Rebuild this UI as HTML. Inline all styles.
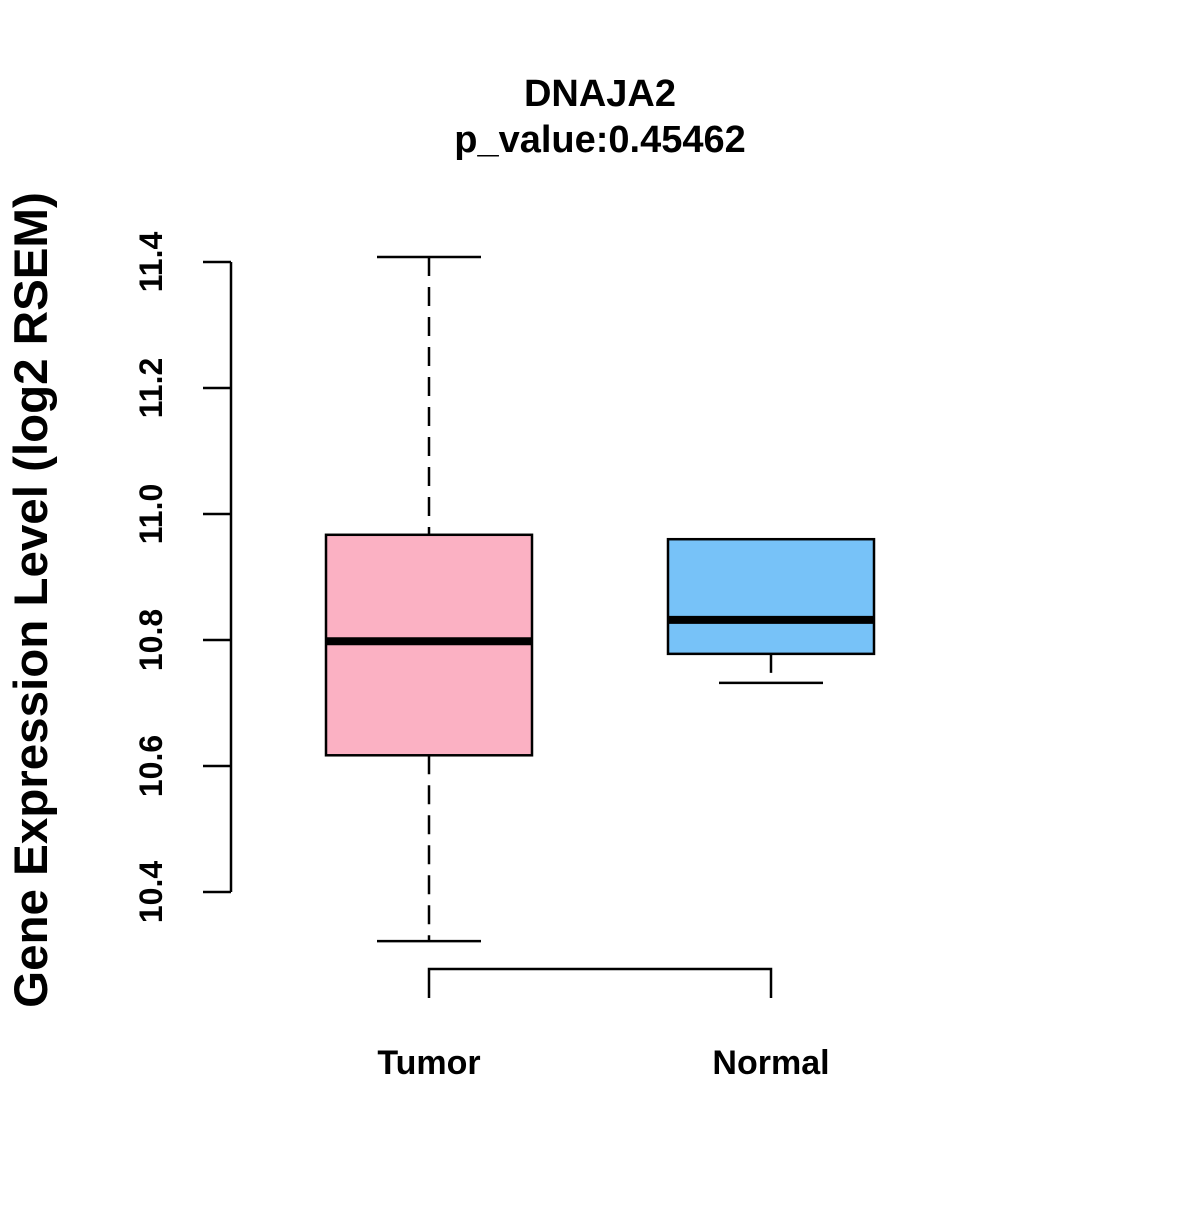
<!DOCTYPE html>
<html><head><meta charset="utf-8"><style>
body{margin:0;background:#fff}
svg text{font-family:"Liberation Sans",Arial,sans-serif;font-weight:bold;fill:#000}
</style></head><body>
<svg id="chart" width="1200" height="1200" xmlns="http://www.w3.org/2000/svg">
<text x="600" y="106" font-size="38" text-anchor="middle">DNAJA2</text>
<text x="600" y="152" font-size="38" text-anchor="middle">p_value:0.45462</text>
<text transform="translate(47,600) rotate(-90)" font-size="47.5" text-anchor="middle">Gene Expression Level (log2 RSEM)</text>
<g id="yaxis"></g>
<g id="xaxis"></g>
<g id="boxes"></g>
</svg>
<script>
const categories=["Tumor","Normal"];
const whiskerHigh=[11.408,10.960];
const q3=[10.967,10.960];
const medians=[10.798,10.832];
const q1=[10.617,10.778];
const whiskerLow=[10.322,10.732];
const colors=["#FBB1C3","#77C2F8"];
const yTicks=[10.4,10.6,10.8,11.0,11.2,11.4];
const yTickLabels=["10.4","10.6","10.8","11.0","11.2","11.4"];

const NS="http://www.w3.org/2000/svg";
const y=v=>262+(11.4-v)*630;
const x=i=>429+i*342;
function mk(parent,tag,attrs){const e=document.createElementNS(NS,tag);for(const k in attrs)e.setAttribute(k,attrs[k]);parent.appendChild(e);return e;}
const ya=document.getElementById('yaxis'),xa=document.getElementById('xaxis'),bx=document.getElementById('boxes');
let l=mk(ya,'line',{x1:231,x2:231,y1:y(yTicks[0]),y2:y(yTicks[yTicks.length-1]),stroke:'#000','stroke-width':2.5});


yTicks.forEach((t,i)=>{
 const tk=mk(ya,'line',{x1:203,x2:231,y1:y(t),y2:y(t),stroke:'#000','stroke-width':2.5});
 
 
 const tx=mk(ya,'text',{transform:`translate(162,${y(t)}) rotate(-90)`,'font-size':32,'text-anchor':'middle'});
 tx.textContent=yTickLabels[i];
 
 
});
l=mk(xa,'path',{d:`M${x(0)},998V969H${x(1)}V998`,fill:'none',stroke:'#000','stroke-width':2.5});


categories.forEach((c,i)=>{
 const tx=mk(xa,'text',{x:x(i),y:1074,'font-size':34,'text-anchor':'middle'});
 tx.textContent=c;
 
 
 const g=mk(bx,'g',{});
 
 
 const cx=x(i);
 mk(g,'line',{x1:cx,x2:cx,y1:y(whiskerHigh[i]),y2:y(q3[i]),stroke:'#000','stroke-width':2.5,'stroke-dasharray':'19,11'});
 mk(g,'line',{x1:cx,x2:cx,y1:y(q1[i]),y2:y(whiskerLow[i]),stroke:'#000','stroke-width':2.5,'stroke-dasharray':'19,11'});
 mk(g,'line',{x1:cx-52,x2:cx+52,y1:y(whiskerHigh[i]),y2:y(whiskerHigh[i]),stroke:'#000','stroke-width':2.5});
 mk(g,'line',{x1:cx-52,x2:cx+52,y1:y(whiskerLow[i]),y2:y(whiskerLow[i]),stroke:'#000','stroke-width':2.5});
 mk(g,'rect',{x:cx-103,y:y(q3[i]),width:206,height:y(q1[i])-y(q3[i]),fill:colors[i],stroke:'#000','stroke-width':2.5});
 mk(g,'line',{x1:cx-103,x2:cx+103,y1:y(medians[i]),y2:y(medians[i]),stroke:'#000','stroke-width':8});
});
</script>
</body></html>
